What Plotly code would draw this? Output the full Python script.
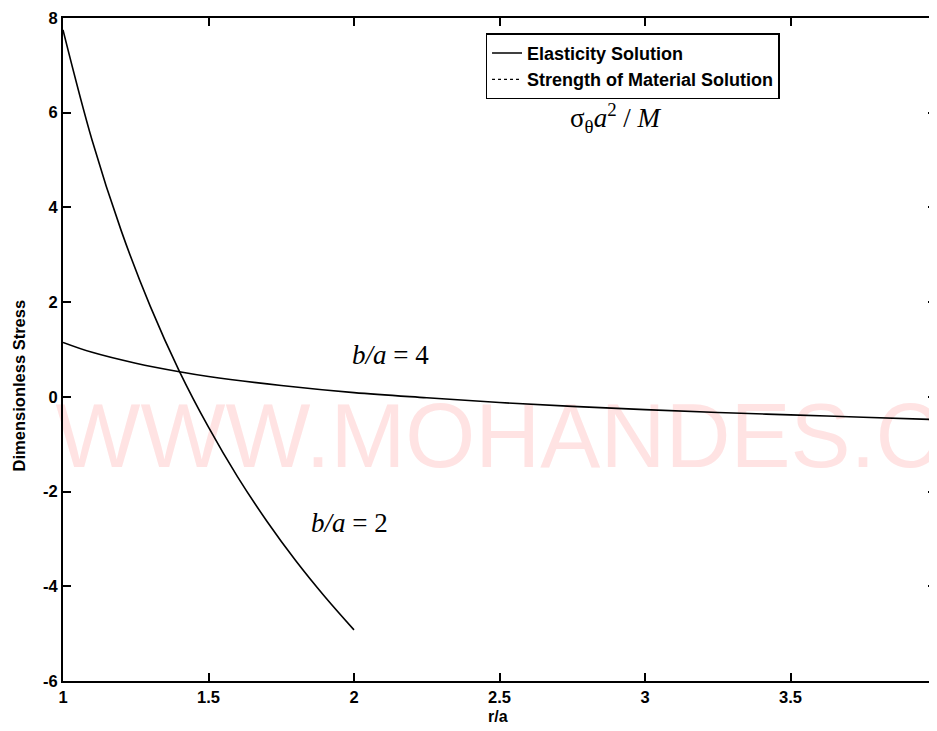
import plotly.graph_objects as go

# r/a positions and dimensionless stress values
r_ba2 = [1.0, 1.1, 1.2, 1.3, 1.4, 1.5, 1.6, 1.7, 1.8, 1.9, 2.0]
s_ba2 = [7.75, 5.42, 3.51, 1.91, 0.54, -0.64, -1.69, -2.62, -3.46, -4.22, -4.92]

r_ba4 = [1.0, 1.1, 1.25, 1.4, 1.5, 1.75, 2.0, 2.25, 2.5, 2.75, 3.0, 3.25, 3.5, 3.75, 4.0]
s_ba4 = [1.15, 0.94, 0.71, 0.53, 0.43, 0.24, 0.09, -0.02, -0.12, -0.20, -0.27, -0.33, -0.38, -0.43, -0.48]

x_ticks = [1, 1.5, 2, 2.5, 3, 3.5, 4]
x_labels = ["1", "1.5", "2", "2.5", "3", "3.5", "4"]
y_ticks = [-6, -4, -2, 0, 2, 4, 6, 8]
y_labels = ["-6", "-4", "-2", "0", "2", "4", "6", "8"]

SANS = "Liberation Sans, Arial, sans-serif"
SERIF = "Liberation Serif, Times New Roman, serif"

fig = go.Figure()

fig.add_trace(go.Scatter(
    x=r_ba2, y=s_ba2,
    mode="lines",
    line=dict(color="black", width=1.6, shape="spline"),
    name="Elasticity Solution",
    legendgroup="elastic",
    showlegend=True,
))
fig.add_trace(go.Scatter(
    x=r_ba4, y=s_ba4,
    mode="lines",
    line=dict(color="black", width=1.6, shape="spline"),
    name="Elasticity Solution",
    legendgroup="elastic",
    showlegend=False,
))
fig.add_trace(go.Scatter(
    x=[None], y=[None],
    mode="lines",
    line=dict(color="black", width=1.2, dash="dot"),
    name="Strength of Material Solution",
))

# watermark: invisible rect below the traces, carrying the text as its label
fig.add_shape(
    type="rect", xref="paper", yref="y",
    x0=-0.012, x1=1.2, y0=-1.43, y1=0.17,
    line=dict(width=0), fillcolor="rgba(0,0,0,0)",
    layer="below",
    label=dict(
        text="WWW.MOHANDES.COM",
        textposition="middle left",
        font=dict(family=SANS, size=90, color="#ffe3e3"),
        padding=0,
    ),
)

axis_common = dict(
    showgrid=False,
    zeroline=False,
    showline=True,
    linecolor="black",
    linewidth=2,
    mirror="ticks",
    ticks="inside",
    ticklen=8,
    tickwidth=1.5,
    tickcolor="black",
    tickfont=dict(family=SANS, size=16.5, color="black", weight="bold"),
    automargin=False,
)

# the page body adds an 8px offset, so the figure is shrunk to fit the window
fig.update_layout(
    width=929,
    height=723,
    paper_bgcolor="white",
    plot_bgcolor="white",
    margin=dict(l=55, r=1, t=10, b=50),
    font=dict(family=SANS, color="black"),
    xaxis=dict(range=[1, 4], tickmode="array", tickvals=x_ticks, ticktext=x_labels, **axis_common),
    yaxis=dict(range=[-6, 8], tickmode="array", tickvals=y_ticks, ticktext=y_labels, **axis_common),
    legend=dict(
        x=0.484, y=0.977, xanchor="left", yanchor="top",
        bgcolor="white",
        bordercolor="black",
        borderwidth=1.5,
        font=dict(family=SANS, size=18, color="black", weight="bold"),
        tracegroupgap=0,
    ),
    annotations=[
        dict(text="σ<sub>θ</sub><i>a</i><sup>2</sup> / <i>M</i>", x=2.9, y=5.89,
             xref="x", yref="y", showarrow=False, font=dict(family=SERIF, size=27)),
        dict(text="<i>b/a</i> = 4", x=2.126, y=0.88,
             xref="x", yref="y", showarrow=False, font=dict(family=SERIF, size=27)),
        dict(text="<i>b/a</i> = 2", x=1.985, y=-2.66,
             xref="x", yref="y", showarrow=False, font=dict(family=SERIF, size=27)),
        dict(text="r/a", x=0.498, y=-0.054, xref="paper", yref="paper",
             xanchor="center", yanchor="middle", showarrow=False,
             font=dict(family=SANS, size=16, weight="bold")),
        dict(text="Dimensionless Stress", x=-0.0503, y=0.446, xref="paper", yref="paper",
             xanchor="center", yanchor="middle", textangle=-90, showarrow=False,
             font=dict(family=SANS, size=16.5, weight="bold")),
    ],
)

fig.write_html("out.html")
